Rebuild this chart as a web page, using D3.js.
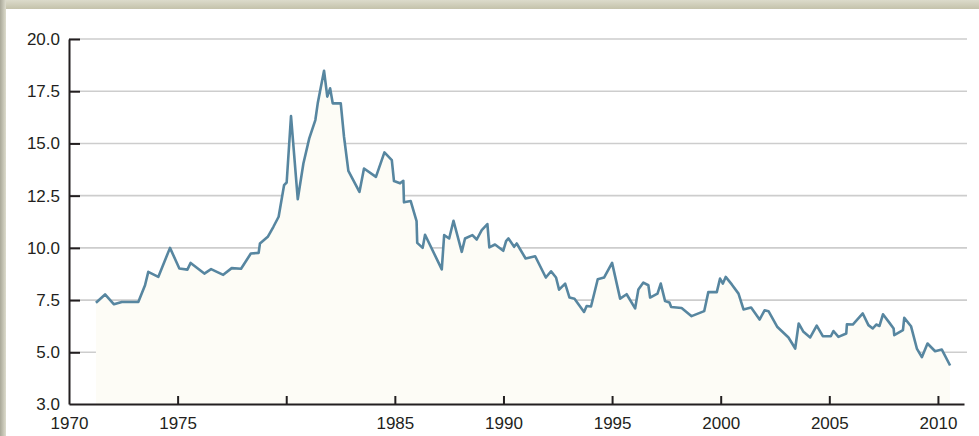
<!DOCTYPE html>
<html>
<head>
<meta charset="utf-8">
<script src="https://cdn.jsdelivr.net/npm/d3@7"></script>
<style>
  html, body { margin: 0; padding: 0; background: #fff; }
  svg { display: block; }
  .axis text { font-family: "Liberation Sans", Arial, sans-serif; font-size: 17px; fill: #231f20; }
</style>
</head>
<body>
<svg width="979" height="436"></svg>
<script>
'use strict';

// decimal years and rates
const years = [
  1971.24, 1971.66, 1972.07, 1972.43, 1973.19, 1973.50, 1973.65, 1974.11, 1974.65, 1975.08,
  1975.45, 1975.60, 1976.23, 1976.54, 1977.10, 1977.49, 1977.92, 1978.37, 1978.73, 1978.79,
  1979.15, 1979.41, 1979.65, 1979.90, 1980.02, 1980.22, 1980.53, 1980.79, 1981.06, 1981.34,
  1981.45, 1981.74, 1981.89, 1982.02, 1982.14, 1982.51, 1982.66, 1982.86, 1983.37, 1983.58,
  1984.13, 1984.52, 1984.86, 1984.96, 1985.24, 1985.39, 1985.42, 1985.73, 1986.00, 1986.03,
  1986.28, 1986.39, 1987.16, 1987.27, 1987.50, 1987.70, 1988.08, 1988.23, 1988.57, 1988.77,
  1989.00, 1989.26, 1989.35, 1989.61, 1989.99, 1990.12, 1990.23, 1990.49, 1990.61, 1991.02,
  1991.46, 1991.95, 1992.19, 1992.42, 1992.56, 1992.84, 1993.04, 1993.27, 1993.71, 1993.83,
  1994.03, 1994.34, 1994.63, 1995.00, 1995.37, 1995.67, 1996.06, 1996.21, 1996.44, 1996.67,
  1996.75, 1997.09, 1997.24, 1997.44, 1997.64, 1997.72, 1998.20, 1998.66, 1999.24, 1999.43,
  1999.82, 1999.97, 2000.10, 2000.23, 2000.51, 2000.82, 2001.05, 2001.40, 2001.79, 2002.02,
  2002.20, 2002.61, 2003.12, 2003.43, 2003.59, 2003.81, 2004.12, 2004.42, 2004.70, 2005.07,
  2005.19, 2005.42, 2005.78, 2005.81, 2006.08, 2006.54, 2006.80, 2007.00, 2007.16, 2007.31,
  2007.47, 2007.77, 2007.96, 2007.99, 2008.39, 2008.45, 2008.76, 2009.03, 2009.26, 2009.52,
  2009.87, 2010.18, 2010.56
];
const rates = [
  7.37, 7.77, 7.30, 7.41, 7.41, 8.21, 8.85, 8.61, 10.00, 9.01,
  8.96, 9.28, 8.77, 8.98, 8.71, 9.03, 9.00, 9.73, 9.76, 10.21,
  10.53, 11.01, 11.49, 13.00, 13.13, 16.31, 12.33, 14.04, 15.24, 16.12,
  16.92, 18.48, 17.24, 17.64, 16.92, 16.92, 15.32, 13.69, 12.68, 13.80,
  13.40, 14.57, 14.20, 13.20, 13.09, 13.21, 12.18, 12.24, 11.28, 10.24,
  10.00, 10.63, 8.97, 10.61, 10.45, 11.30, 9.81, 10.45, 10.61, 10.40,
  10.85, 11.14, 10.02, 10.16, 9.86, 10.32, 10.45, 10.05, 10.21, 9.49,
  9.60, 8.58, 8.88, 8.58, 8.00, 8.29, 7.62, 7.56, 6.93, 7.22,
  7.19, 8.50, 8.58, 9.28, 7.57, 7.78, 7.10, 8.01, 8.34, 8.21,
  7.62, 7.81, 8.29, 7.45, 7.38, 7.17, 7.12, 6.73, 6.97, 7.88,
  7.88, 8.53, 8.29, 8.61, 8.25, 7.81, 7.05, 7.14, 6.57, 7.01,
  6.97, 6.21, 5.71, 5.18, 6.38, 5.98, 5.71, 6.28, 5.77, 5.77,
  6.02, 5.74, 5.90, 6.34, 6.33, 6.86, 6.30, 6.14, 6.33, 6.26,
  6.82, 6.41, 6.14, 5.82, 6.06, 6.65, 6.25, 5.18, 4.81, 5.42,
  5.05, 5.13, 4.49
];

const xTicks = [1970, 1975, 1980, 1985, 1990, 1995, 2000, 2005, 2010];
const xTickLabels = ["1970", "1975", "", "1985", "1990", "1995", "2000", "2005", "2010"];
const yTicks = [3.0, 5.0, 7.5, 10.0, 12.5, 15.0, 17.5, 20.0];

const data = years.map((y, i) => ({year: y, value: rates[i]}));

let svg = d3.select("svg"),
    width = +svg.attr("width"),
    height = +svg.attr("height");

// frame round the chart
let defs = svg.append("defs");
let gTop = defs.append("linearGradient").attr("id", "gtop").attr("x1", 0).attr("y1", 0).attr("x2", 0).attr("y2", 1);
gTop.append("stop").attr("offset", "0%").attr("stop-color", "#dcdbcb");
gTop.append("stop").attr("offset", "100%").attr("stop-color", "#c4c2ab");
let gLeft = defs.append("linearGradient").attr("id", "gleft").attr("x1", 0).attr("y1", 0).attr("x2", 1).attr("y2", 0);
gLeft.append("stop").attr("offset", "0%").attr("stop-color", "#a9a898");
gLeft.append("stop").attr("offset", "100%").attr("stop-color", "#dddccd");
svg.append("rect").attr("x", 0).attr("y", 0).attr("width", width).attr("height", 9).attr("fill", "url(#gtop)");
svg.append("rect").attr("x", 0).attr("y", 0).attr("width", 6).attr("height", height).attr("fill", "url(#gleft)");

let x = d3.scaleLinear().domain([1970, 2011.2]).range([69, 964]);
// the lowest interval (3.0 to 5.0) is drawn taller than the rest, as in the original
let y = d3.scaleLinear().domain([3.0, 5.0, 20.0]).range([404, 352.3, 39]);

// gridlines
svg.append("g")
    .selectAll("line")
    .data(yTicks.filter(d => d > 3))
    .enter()
    .append("line")
    .attr("x1", 69)
    .attr("x2", 967)
    .attr("y1", d => y(d))
    .attr("y2", d => y(d))
    .attr("stroke", "#cdcdcd")
    .attr("stroke-width", 1.6);

let area = d3.area()
    .x(d => x(d.year))
    .y0(y(3.0))
    .y1(d => y(d.value));
svg.append("path")
    .datum(data)
    .attr("d", area)
    .attr("fill", "#fdfcf6");

let line = d3.line()
    .x(d => x(d.year))
    .y(d => y(d.value));
svg.append("path")
    .datum(data)
    .attr("d", line)
    .attr("fill", "none")
    .attr("stroke", "#5786a0")
    .attr("stroke-width", 2.6)
    .attr("stroke-linejoin", "round");

let xAxis = svg.append("g")
    .attr("class", "axis")
    .attr("transform", "translate(0," + y(3.0) + ")")
    .call(d3.axisBottom(x)
        .tickValues(xTicks)
        .tickFormat((d, i) => xTickLabels[i])
        .tickSizeInner(-8)
        .tickSizeOuter(0)
        .tickPadding(13));

let yAxis = svg.append("g")
    .attr("class", "axis")
    .attr("transform", "translate(" + x(1970) + ",0)")
    .call(d3.axisLeft(y)
        .tickValues(yTicks)
        .tickFormat(d3.format(".1f"))
        .tickSizeInner(-11)
        .tickSizeOuter(0)
        .tickPadding(9));

svg.selectAll(".axis .domain").attr("stroke", "#231f20").attr("stroke-width", 2);
svg.selectAll(".axis .tick line").attr("stroke", "#231f20").attr("stroke-width", 2);
yAxis.selectAll(".tick").filter(d => d === 3.0).select("line").remove();
xAxis.selectAll(".tick").filter(d => d === 1970).select("line").remove();
</script>
</body>
</html>
